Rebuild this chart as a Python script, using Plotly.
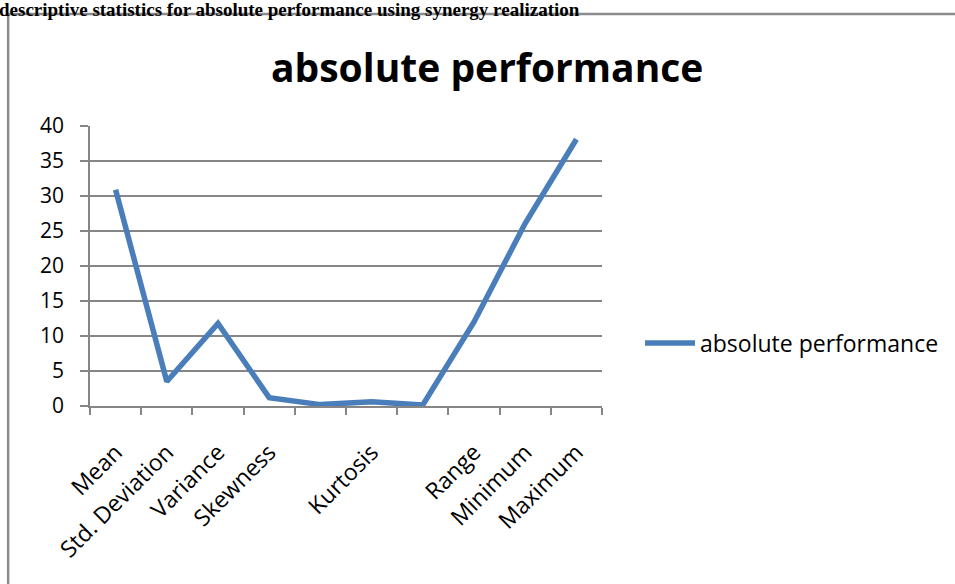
import plotly.graph_objects as go

# Data
categories = ["Mean", "Std. Deviation", "Variance", "Skewness", "Std. Error of Skewness",
              "Kurtosis", "Std. Error of Kurtosis", "Range", "Minimum", "Maximum"]
tick_labels = ["Mean", "Std. Deviation", "Variance", "Skewness", "",
               "Kurtosis", "", "Range", "Minimum", "Maximum"]
values = [30.9, 3.5, 11.8, 1.2, 0.2, 0.6, 0.15, 12.0, 26.1, 38.1]
series_name = "absolute performance"
header_text = "descriptive statistics for absolute performance using synergy realization"

W, H = 955, 584
L, R, T, B = 90, 352, 126, 178
pw = W - L - R
ph = H - T - B

def px_x(p):
    return (p - L) / pw

def px_y(p):
    return (H - B - p) / ph

x_idx = list(range(len(categories)))

fig = go.Figure()
fig.add_trace(go.Scatter(
    x=x_idx, y=values, mode="lines", name=series_name,
    line=dict(color="#4A7EBB", width=5.5),
    customdata=categories,
    hovertemplate="%{customdata}: %{y}<extra></extra>",
))

grid_col = "#868686"
fig.update_layout(
    width=W, height=H,
    margin=dict(l=L, r=R, t=T, b=B),
    paper_bgcolor="white", plot_bgcolor="white",
    font=dict(family="Open Sans, Noto Sans, sans-serif", color="black"),
    showlegend=True,
    legend=dict(
        x=px_x(640), y=px_y(343), xanchor="left", yanchor="middle",
        font=dict(size=23, family="Open Sans, sans-serif", color="black"),
        bgcolor="rgba(0,0,0,0)", itemwidth=50,
    ),
    xaxis=dict(
        range=[-0.5, len(categories) - 0.5],
        tickmode="array", tickvals=x_idx, ticktext=tick_labels,
        tickangle=-45, ticks="", tickfont=dict(size=23),
        ticklabelstandoff=22,
        showgrid=False, zeroline=False,
        showline=True, linecolor=grid_col, linewidth=1.5,
        minor=dict(ticks="outside", tick0=0.5, dtick=1, ticklen=7,
                   tickcolor=grid_col, tickwidth=1.5, showgrid=False),
        fixedrange=True,
    ),
    yaxis=dict(
        range=[0, 40], tick0=0, dtick=5,
        ticks="outside", ticklen=8, tickcolor=grid_col, tickwidth=1.5,
        tickfont=dict(size=21), ticklabelstandoff=12,
        showgrid=True, gridcolor=grid_col, gridwidth=1.5,
        zeroline=False, showline=True, linecolor=grid_col, linewidth=1.5,
        fixedrange=True,
    ),
)

# Chart title
fig.add_annotation(
    text="<b>absolute performance</b>", xref="paper", yref="paper",
    x=px_x(488), y=px_y(66), xanchor="center", yanchor="middle",
    showarrow=False, font=dict(size=39, family="Open Sans, sans-serif", color="black"),
)

# Document header
fig.add_annotation(
    text="<b>" + header_text + "</b>", xref="paper", yref="paper",
    x=px_x(-3), y=px_y(-3), xanchor="left", yanchor="top",
    showarrow=False,
    font=dict(size=19, family="Liberation Serif, Times New Roman, serif", color="black"),
)

# Outer frame
fig.add_shape(
    type="rect", xref="paper", yref="paper",
    x0=px_x(8), x1=px_x(990), y0=px_y(14), y1=px_y(620),
    line=dict(color="#8C8C8C", width=2.5), fillcolor="rgba(0,0,0,0)", layer="below",
)

fig.write_html("out.html")
